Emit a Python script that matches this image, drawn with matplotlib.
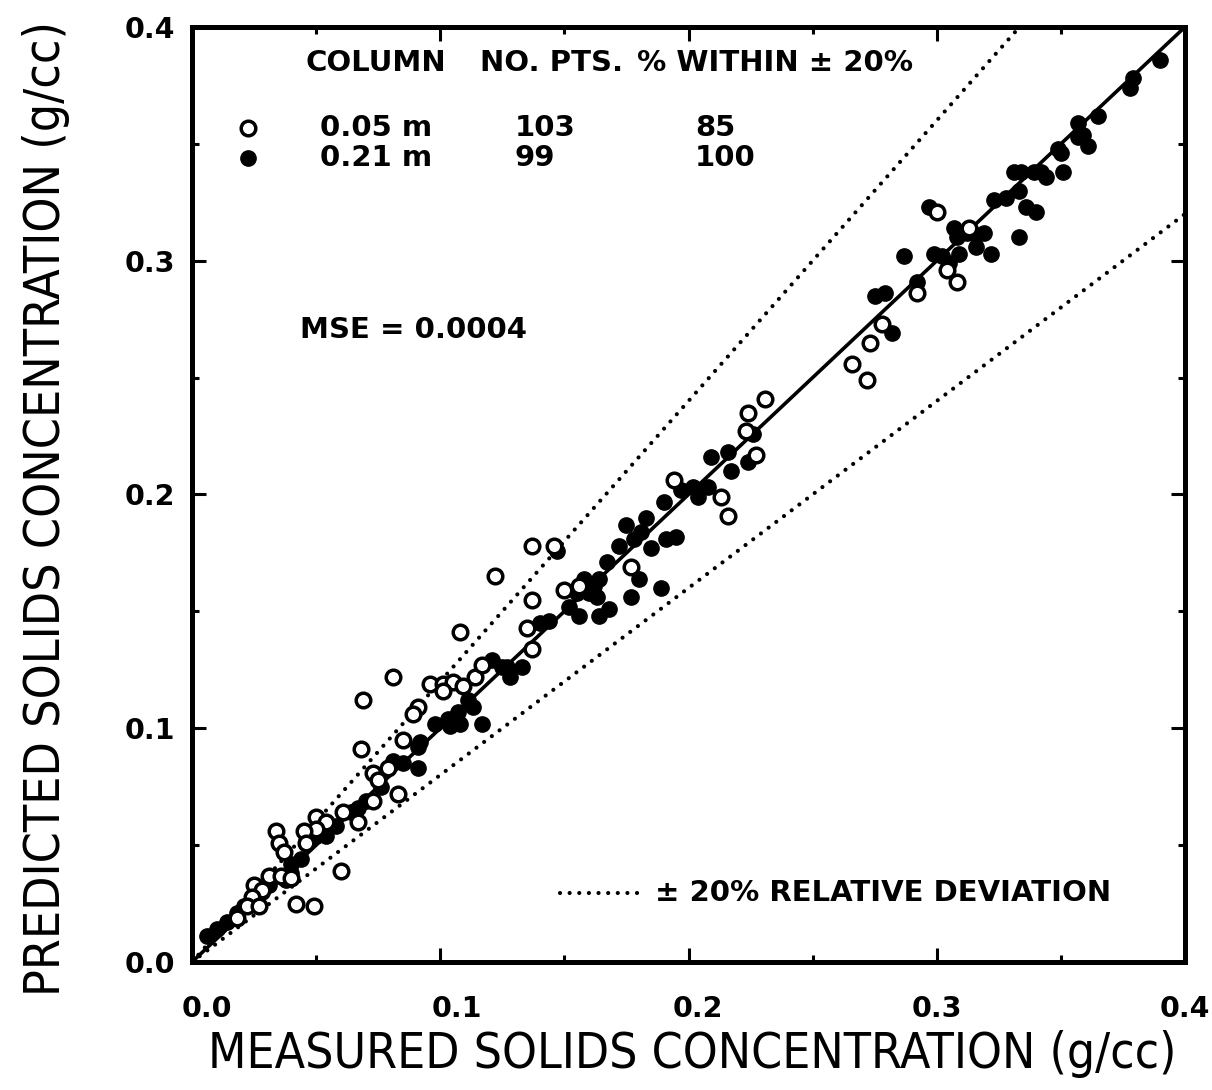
import matplotlib
matplotlib.use("Agg")
import matplotlib.pyplot as plt
from matplotlib import font_manager as fm
from matplotlib.ticker import MultipleLocator, FormatStrFormatter
from matplotlib.transforms import ScaledTranslation

# pick a narrow/condensed sans if one is installed
narrow_file = None
for f in fm.fontManager.ttflist:
    fl = f.fname.lower()
    if ('narrow' in fl or 'condensed' in fl) and 'bold' not in fl and 'italic' not in fl \
            and 'oblique' not in fl and 'mono' not in fl and 'serif' not in fl:
        narrow_file = f.fname
        break
if narrow_file:
    LABEL_FP = fm.FontProperties(fname=narrow_file)
else:
    LABEL_FP = fm.FontProperties(family='DejaVu Sans')
BODY = 'DejaVu Sans'

# ---------------- data ----------------
open_x = [0.122, 0.108, 0.081, 0.069, 0.068, 0.137, 0.137, 0.135, 0.137, 0.096,
          0.101, 0.105, 0.109, 0.101, 0.114, 0.117, 0.091, 0.089, 0.085, 0.073,
          0.075, 0.079, 0.083, 0.061, 0.067, 0.073, 0.050, 0.054, 0.050, 0.045,
          0.046, 0.034, 0.035, 0.037, 0.060, 0.042, 0.049, 0.025, 0.028, 0.024,
          0.031, 0.036, 0.040, 0.022, 0.027, 0.018, 0.146, 0.150, 0.156, 0.177,
          0.194, 0.213, 0.216, 0.223, 0.224, 0.231, 0.227, 0.266, 0.272, 0.278,
          0.273, 0.292, 0.300, 0.304, 0.308, 0.313]
open_y = [0.165, 0.141, 0.122, 0.112, 0.091, 0.155, 0.178, 0.143, 0.134, 0.119,
          0.119, 0.120, 0.118, 0.116, 0.122, 0.127, 0.109, 0.106, 0.095, 0.081,
          0.078, 0.083, 0.072, 0.064, 0.060, 0.069, 0.062, 0.060, 0.057, 0.056,
          0.051, 0.056, 0.051, 0.047, 0.039, 0.025, 0.024, 0.033, 0.031, 0.028,
          0.037, 0.037, 0.036, 0.024, 0.024, 0.019, 0.178, 0.159, 0.161, 0.169,
          0.206, 0.199, 0.191, 0.227, 0.235, 0.241, 0.217, 0.256, 0.249, 0.273,
          0.265, 0.286, 0.321, 0.296, 0.291, 0.314]

filled_x = [0.175, 0.183, 0.190, 0.197, 0.202, 0.204, 0.209, 0.216, 0.217, 0.224,
            0.226, 0.208, 0.181, 0.178, 0.172, 0.185, 0.191, 0.195, 0.167, 0.158,
            0.164, 0.162, 0.155, 0.160, 0.163, 0.180, 0.189, 0.177, 0.168, 0.164,
            0.156, 0.152, 0.144, 0.140, 0.133, 0.127, 0.147, 0.117, 0.121, 0.125,
            0.128, 0.111, 0.113, 0.107, 0.108, 0.104, 0.098, 0.103, 0.092, 0.091,
            0.091, 0.081, 0.085, 0.076, 0.067, 0.064, 0.058, 0.050, 0.040, 0.038,
            0.040, 0.028, 0.018, 0.014, 0.010, 0.006, 0.021, 0.025, 0.031, 0.044,
            0.054, 0.070,
            0.390, 0.379, 0.378, 0.365, 0.357, 0.359, 0.361, 0.357, 0.349, 0.350,
            0.351, 0.331, 0.334, 0.339, 0.342, 0.344, 0.323, 0.328, 0.333, 0.336,
            0.340, 0.297, 0.307, 0.308, 0.312, 0.316, 0.319, 0.316, 0.322, 0.333,
            0.287, 0.299, 0.302, 0.305, 0.309, 0.275, 0.279, 0.282, 0.292]
filled_y = [0.187, 0.190, 0.197, 0.202, 0.203, 0.199, 0.216, 0.218, 0.210, 0.214,
            0.226, 0.203, 0.184, 0.181, 0.178, 0.177, 0.181, 0.182, 0.171, 0.164,
            0.164, 0.161, 0.158, 0.158, 0.156, 0.164, 0.160, 0.156, 0.151, 0.148,
            0.148, 0.152, 0.146, 0.145, 0.126, 0.126, 0.176, 0.102, 0.129, 0.126,
            0.122, 0.112, 0.109, 0.107, 0.102, 0.101, 0.102, 0.104, 0.094, 0.092,
            0.083, 0.086, 0.085, 0.075, 0.066, 0.064, 0.058, 0.054, 0.042, 0.035,
            0.038, 0.030, 0.021, 0.017, 0.014, 0.011, 0.024, 0.028, 0.033, 0.044,
            0.054, 0.069,
            0.386, 0.378, 0.374, 0.362, 0.359, 0.354, 0.349, 0.353, 0.348, 0.346,
            0.338, 0.338, 0.338, 0.338, 0.338, 0.336, 0.326, 0.327, 0.330, 0.323,
            0.321, 0.323, 0.314, 0.310, 0.312, 0.311, 0.312, 0.306, 0.303, 0.310,
            0.302, 0.303, 0.302, 0.299, 0.303, 0.285, 0.286, 0.269, 0.291]

line_ends = [0.0, 0.4]
rel_dev = 0.20

header = ["COLUMN", "NO. PTS.", "% WITHIN \u00b1 20%"]
rows = [("0.05 m", "103", "85"), ("0.21 m", "99", "100")]
mse_text = "MSE = 0.0004"
dev_text = "\u00b1 20% RELATIVE DEVIATION"
xlabel = "MEASURED SOLIDS CONCENTRATION (g/cc)"
ylabel = "PREDICTED SOLIDS CONCENTRATION (g/cc)"

# ---------------- figure ----------------
fig = plt.figure(figsize=(12.12, 10.9), dpi=100)
ax = fig.add_axes([192/1212, (1090-962)/1090, (1185-192)/1212, (962-27)/1090])
ax.set_xlim(0, 0.4)
ax.set_ylim(0, 0.4)

DOT = (0, (0.01, 2.3))
ax.plot(line_ends, line_ends, color='black', lw=2.6, zorder=3, solid_capstyle='round')
ax.plot(line_ends, [v * (1 + rel_dev) for v in line_ends], color='black', lw=3.0,
        linestyle=DOT, dash_capstyle='round', zorder=2)
ax.plot(line_ends, [v * (1 - rel_dev) for v in line_ends], color='black', lw=3.0,
        linestyle=DOT, dash_capstyle='round', zorder=2)

ax.plot(filled_x, filled_y, 'o', color='black', ms=11, zorder=4)
ax.plot(open_x, open_y, 'o', mfc='white', mec='black', ms=10.5, mew=2.5, zorder=5)

# spines & ticks
for s in ax.spines.values():
    s.set_linewidth(3.6)
ax.xaxis.set_major_locator(MultipleLocator(0.1))
ax.yaxis.set_major_locator(MultipleLocator(0.1))
ax.xaxis.set_minor_locator(MultipleLocator(0.05))
ax.yaxis.set_minor_locator(MultipleLocator(0.05))
ax.xaxis.set_major_formatter(FormatStrFormatter('%.1f'))
ax.yaxis.set_major_formatter(FormatStrFormatter('%.1f'))
ax.tick_params(which='both', direction='in', top=True, right=True, width=2.2)
ax.tick_params(which='major', length=10)
ax.tick_params(which='minor', length=5)
ax.tick_params(axis='x', which='major', pad=24)
ax.tick_params(axis='y', which='major', pad=12)
for lab in ax.get_xticklabels() + ax.get_yticklabels():
    lab.set_fontfamily(BODY)
    lab.set_fontweight('bold')
    lab.set_fontsize(20.5)

# small horizontal offsets of the x tick labels as typeset in the original
x_label_shift_px = [23, 15, 17, 9, 0]
for tick, dx in zip(ax.xaxis.get_major_ticks(), x_label_shift_px):
    tick.label1.set_transform(tick.label1.get_transform()
                              + ScaledTranslation(dx / 100.0, 0, fig.dpi_scale_trans))

# axis labels placed in figure pixels, fitted to the reference lengths
renderer = fig.canvas.get_renderer()
W, H = 1212, 1090
xl = fig.text(692 / W, 1 - 1054 / H, xlabel, fontproperties=LABEL_FP, fontsize=30,
              ha='center', va='center')
yl = fig.text(46 / W, 1 - 508 / H, ylabel, fontproperties=LABEL_FP, fontsize=30,
              ha='center', va='center', rotation=90)
for t, target in ((xl, 968.0), (yl, 975.0)):
    ext = t.get_window_extent(renderer)
    length = max(ext.width, ext.height)
    t.set_fontsize(30 * target / length)

# annotation block
tk = dict(fontfamily=BODY, fontweight='bold', fontsize=21, transform=ax.transAxes,
          va='center', ha='left')
head_y = 0.962
ax.text(0.114, head_y, header[0], **tk)
ax.text(0.290, head_y, header[1], **tk)
ax.text(0.448, head_y, header[2], **tk)
row_y = [0.892, 0.860]
val_x = [0.129, 0.325, 0.5065]
for (a, b, c), yy in zip(rows, row_y):
    ax.text(val_x[0], yy, a, **tk)
    ax.text(val_x[1], yy, b, **tk)
    ax.text(val_x[2], yy, c, **tk)
ax.plot([0.0564], [row_y[0]], 'o', mfc='white', mec='black', ms=10.5, mew=2.5,
        transform=ax.transAxes, clip_on=False)
ax.plot([0.0564], [row_y[1]], 'o', color='black', ms=11,
        transform=ax.transAxes, clip_on=False)

ax.text(0.109, 0.676, mse_text, **tk)

ax.plot([0.371, 0.456], [0.0738, 0.0738], color='black', lw=3.0,
        linestyle=DOT, dash_capstyle='round', transform=ax.transAxes)
ax.text(0.466, 0.0738, dev_text, **tk)

fig.savefig("out.png", dpi=100)
